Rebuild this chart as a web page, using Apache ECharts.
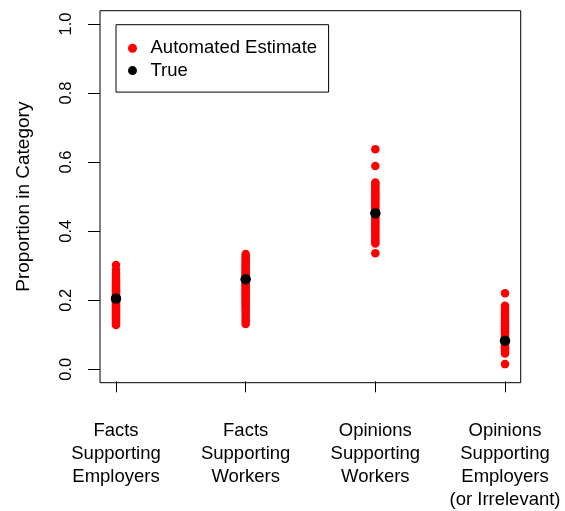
<!DOCTYPE html>
<html>
<head>
<meta charset="utf-8">
<script src="https://cdn.jsdelivr.net/npm/echarts@6/dist/echarts.min.js"></script>
<style>
html,body{margin:0;padding:0;background:#fff;}
#chart{width:565px;height:511px;}
</style>
</head>
<body>
<div id="chart"></div>
<script>
var categories = [
  "Facts\nSupporting\nEmployers",
  "Facts\nSupporting\nWorkers",
  "Opinions\nSupporting\nWorkers",
  "Opinions\nSupporting\nEmployers\n(or Irrelevant)"
];
var estFactsEmployers = [0.302, 0.288, 0.279, 0.271, 0.263, 0.257, 0.252, 0.247, 0.243, 0.239, 0.236, 0.232, 0.229, 0.225, 0.221, 0.218, 0.214, 0.211, 0.207, 0.203, 0.200, 0.196, 0.193, 0.189, 0.186, 0.182, 0.178, 0.175, 0.171, 0.167, 0.163, 0.159, 0.155, 0.151, 0.147, 0.143, 0.139, 0.135, 0.131, 0.128];
var estFactsWorkers = [0.334, 0.328, 0.322, 0.316, 0.311, 0.305, 0.300, 0.295, 0.290, 0.285, 0.281, 0.276, 0.272, 0.267, 0.263, 0.258, 0.254, 0.249, 0.245, 0.240, 0.236, 0.231, 0.226, 0.222, 0.217, 0.212, 0.207, 0.202, 0.197, 0.192, 0.187, 0.181, 0.175, 0.168, 0.161, 0.153, 0.146, 0.139, 0.131];
var estOpinionsWorkers = [0.637, 0.589, 0.541, 0.536, 0.530, 0.524, 0.518, 0.512, 0.507, 0.501, 0.495, 0.490, 0.484, 0.479, 0.473, 0.468, 0.462, 0.457, 0.451, 0.446, 0.440, 0.435, 0.429, 0.423, 0.417, 0.411, 0.405, 0.399, 0.393, 0.387, 0.381, 0.375, 0.369, 0.364, 0.336];
var estOpinionsEmployers = [0.220, 0.184, 0.178, 0.172, 0.166, 0.160, 0.154, 0.148, 0.142, 0.136, 0.131, 0.125, 0.119, 0.113, 0.108, 0.102, 0.096, 0.091, 0.085, 0.080, 0.074, 0.069, 0.063, 0.058, 0.052, 0.046, 0.015];
var trueValues = [0.205, 0.261, 0.452, 0.083];

var estimates = [estFactsEmployers, estFactsWorkers, estOpinionsWorkers, estOpinionsEmployers];
var estData = [];
estimates.forEach(function (arr, i) {
  arr.forEach(function (v) { estData.push([i + 1, v]); });
});
var trueData = trueValues.map(function (v, i) { return [i + 1, v]; });

var FONT = "'Liberation Sans', Arial, Helvetica, sans-serif";
var chart = echarts.init(document.getElementById('chart'), null, {renderer: 'canvas'});
chart.setOption({
  animation: false,
  backgroundColor: '#fff',
  textStyle: {fontFamily: FONT, color: '#000'},
  grid: [
    {left: 100, right: 44.3, top: 10.7, bottom: 128.3, show: true, borderColor: '#000', borderWidth: 1, backgroundColor: 'transparent'},
    {left: 116, right: 60, top: 24, bottom: 141.7},
    {left: 116, right: 60, top: 10.7, bottom: 128.3},
    {left: 100, right: 44.3, top: 24, bottom: 141.7}
  ],
  xAxis: [
    {gridIndex: 0, type: 'value', min: 0, max: 1, show: false},
    {gridIndex: 1, type: 'value', min: 1, max: 4, show: false},
    {gridIndex: 2, type: 'value', min: 1, max: 4, interval: 1, position: 'bottom',
     splitLine: {show: false}, axisLine: {show: false},
     axisTick: {show: true, length: 11, lineStyle: {color: '#000', width: 1}},
     axisLabel: {show: true, margin: 38.5, fontSize: 18.5, lineHeight: 22.8, color: '#000', fontFamily: FONT,
       hideOverlap: false, showMinLabel: true, showMaxLabel: true, align: 'center',
       formatter: function (v) { return categories[Math.round(v) - 1] || ''; }}},
    {gridIndex: 3, type: 'value', min: 0, max: 1, show: false}
  ],
  yAxis: [
    {gridIndex: 0, type: 'value', min: 0, max: 1, show: false},
    {gridIndex: 1, type: 'value', min: 0, max: 1, show: false},
    {gridIndex: 2, type: 'value', min: 0, max: 1, show: false},
    {gridIndex: 3, type: 'value', min: 0, max: 1, interval: 0.2, position: 'left',
     name: 'Proportion in Category', nameLocation: 'middle', nameRotate: 90, nameGap: 67,
     nameTextStyle: {fontSize: 19, color: '#000', fontFamily: FONT},
     splitLine: {show: false}, axisLine: {show: false},
     axisTick: {show: true, length: 12, lineStyle: {color: '#000', width: 1}},
     axisLabel: {show: true, rotate: 90, margin: 25, fontSize: 16.5, color: '#000', fontFamily: FONT,
       showMinLabel: true, showMaxLabel: true,
       formatter: function (v) { return v.toFixed(1); }}}
  ],
  legend: {
    left: 116, top: 24.7, orient: 'vertical',
    padding: [13.5, 11.5, 11.5, 12],
    borderColor: '#000', borderWidth: 1, borderRadius: 0,
    itemWidth: 9, itemHeight: 9, itemGap: 2.4,
    textStyle: {fontSize: 18.5, lineHeight: 20, color: '#000', fontFamily: FONT, padding: [0, 0, 0, 8.5]},
    data: [{name: 'Automated Estimate', icon: 'circle'}, {name: 'True', icon: 'circle'}]
  },
  series: [
    {name: 'Automated Estimate', type: 'scatter', xAxisIndex: 1, yAxisIndex: 1, clip: false,
     symbol: 'circle', symbolSize: 8.5, itemStyle: {color: '#FF0000', opacity: 1}, data: estData},
    {name: 'True', type: 'scatter', xAxisIndex: 1, yAxisIndex: 1, clip: false,
     symbol: 'circle', symbolSize: 10.5, itemStyle: {color: '#000000', opacity: 1}, data: trueData}
  ]
});
</script>
</body>
</html>
